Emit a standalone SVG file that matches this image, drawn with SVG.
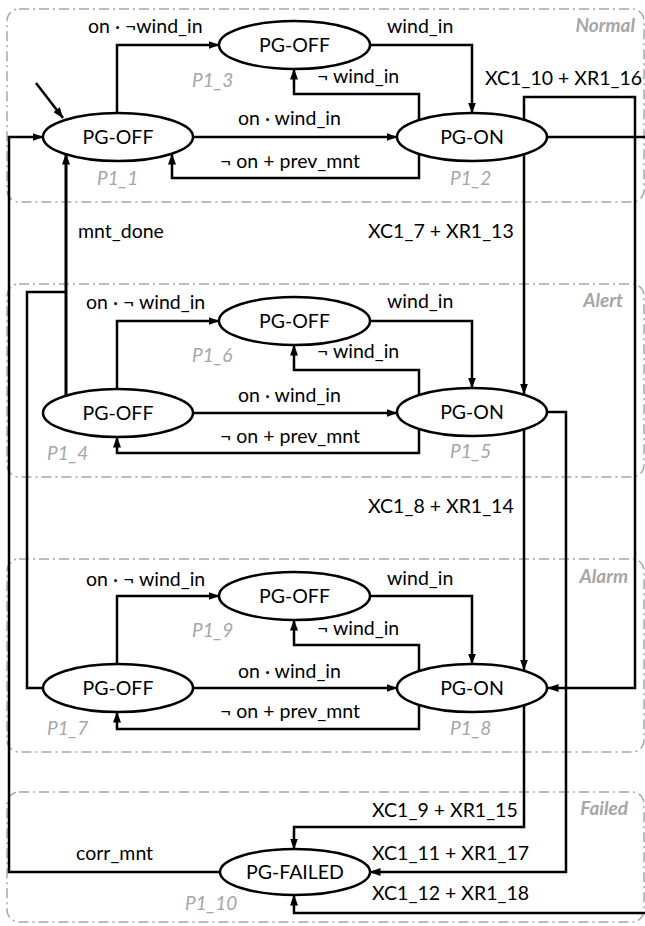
<svg xmlns="http://www.w3.org/2000/svg" width="645" height="926" viewBox="0 0 645 926">
<style>
.region{fill:none;stroke:#a6a6a6;stroke-width:1.5;stroke-dasharray:10 4 2 4}
.rlabel{font-family:Lato,"Open Sans",sans-serif;font-size:19px;font-weight:bold;font-style:italic;fill:#a6a6a6;text-anchor:end}
.st{fill:#fff;stroke:#000;stroke-width:2.5}
.nt{font-family:Lato,"Open Sans",sans-serif;font-size:19.5px;fill:#000;text-anchor:middle}
.pl{font-family:Lato,"Open Sans",sans-serif;font-size:19px;font-style:italic;fill:#a6a6a6}
.e{fill:none;stroke:#000;stroke-width:2.5;marker-end:url(#ah)}
.ln{fill:none;stroke:#000;stroke-width:2.5}
.lb{font-family:Lato,"Open Sans",sans-serif;font-size:19.5px;fill:#000}
</style>
<defs>
<marker id="ah" viewBox="0 0 11 8" refX="10.5" refY="4" markerWidth="11" markerHeight="8" markerUnits="userSpaceOnUse" orient="auto">
<path d="M0,0 L11,4 L0,8 z" fill="#000"/>
</marker>
</defs>
<g id="regions">
<rect class="region" x="7" y="9" width="637" height="193" rx="12"/>
<rect class="region" x="7" y="284" width="637" height="193" rx="12"/>
<rect class="region" x="7" y="559" width="637" height="193" rx="12"/>
<rect class="region" x="7" y="792" width="637" height="130" rx="12"/>
<text class="rlabel" x="635" y="32">Normal</text>
<text class="rlabel" x="623" y="307">Alert</text>
<text class="rlabel" x="628" y="583">Alarm</text>
<text class="rlabel" x="628" y="815">Failed</text>
</g>
<g id="connectors">
<path class="e" d="M36,83 L63,118"/>
<path class="e" d="M220,872 H9 V137 H43"/>
<path class="e" d="M117,113 V45 H219"/>
<path class="e" d="M370,45 H472 V113"/>
<path class="e" d="M419,120 V94 H294 V69"/>
<path class="e" d="M193,137 H397"/>
<path class="e" d="M419,154 V178 H172 V154"/>
<path class="e" d="M524,120 V97 H635 V688 H548"/>
<path class="ln" d="M547,137 H645"/>
<path class="e" d="M645,913 H294 V895"/>
<path class="e" d="M524,154 V394"/>
<path class="e" d="M66,396 V154" style="stroke-width:3"/>
<path class="ln" d="M43,688 H27 V292 H66"/>
<path class="e" d="M117,390 V321 H219"/>
<path class="e" d="M370,321 H472 V388"/>
<path class="e" d="M419,395 V370 H294 V345"/>
<path class="e" d="M193,413 H397"/>
<path class="e" d="M419,430 V453 H117 V437"/>
<path class="e" d="M547,412 H566 V872 H370"/>
<path class="e" d="M524,430 V670"/>
<path class="e" d="M117,665 V596 H219"/>
<path class="e" d="M370,596 H472 V664"/>
<path class="e" d="M419,671 V645 H294 V620"/>
<path class="e" d="M193,688 H397"/>
<path class="e" d="M419,705 V729 H117 V712"/>
<path class="e" d="M524,705 V827 H294 V849"/>
<text class="lb" x="88" y="33">on · ¬wind_in</text>
<text class="lb" x="387" y="33">wind_in</text>
<text class="lb" x="317" y="83">¬ wind_in</text>
<text class="lb" x="238" y="125">on · wind_in</text>
<text class="lb" x="220" y="168">¬ on + prev_mnt</text>
<text class="lb" x="485" y="85">XC1_10 + XR1_16</text>
<text class="lb" x="78" y="238">mnt_done</text>
<text class="lb" x="368" y="238">XC1_7 + XR1_13</text>
<text class="lb" x="86" y="309">on · ¬ wind_in</text>
<text class="lb" x="387" y="308">wind_in</text>
<text class="lb" x="317" y="358">¬ wind_in</text>
<text class="lb" x="238" y="402">on · wind_in</text>
<text class="lb" x="220" y="443">¬ on + prev_mnt</text>
<text class="lb" x="368" y="513">XC1_8 + XR1_14</text>
<text class="lb" x="86" y="586">on · ¬ wind_in</text>
<text class="lb" x="387" y="585">wind_in</text>
<text class="lb" x="317" y="635">¬ wind_in</text>
<text class="lb" x="238" y="678">on · wind_in</text>
<text class="lb" x="220" y="718">¬ on + prev_mnt</text>
<text class="lb" x="372" y="817">XC1_9 + XR1_15</text>
<text class="lb" x="76" y="860">corr_mnt</text>
<text class="lb" x="372" y="860">XC1_11 + XR1_17</text>
<text class="lb" x="372" y="900">XC1_12 + XR1_18</text>
</g>
<g id="P1_1"><ellipse class="st" cx="118" cy="137" rx="75" ry="24"/><text class="nt" x="118" y="144">PG-OFF</text><text class="pl" x="97" y="185">P1_1</text></g>
<g id="P1_2"><ellipse class="st" cx="472" cy="137" rx="75" ry="24"/><text class="nt" x="472" y="144">PG-ON</text><text class="pl" x="450" y="185">P1_2</text></g>
<g id="P1_3"><ellipse class="st" cx="294.5" cy="45" rx="75.5" ry="24"/><text class="nt" x="294.5" y="52">PG-OFF</text><text class="pl" x="192" y="87">P1_3</text></g>
<g id="P1_4"><ellipse class="st" cx="118" cy="413" rx="75" ry="24"/><text class="nt" x="118" y="420">PG-OFF</text><text class="pl" x="47" y="460">P1_4</text></g>
<g id="P1_5"><ellipse class="st" cx="472" cy="412" rx="75" ry="24"/><text class="nt" x="472" y="419">PG-ON</text><text class="pl" x="450" y="458">P1_5</text></g>
<g id="P1_6"><ellipse class="st" cx="294.5" cy="321" rx="75.5" ry="24"/><text class="nt" x="294.5" y="328">PG-OFF</text><text class="pl" x="192" y="362">P1_6</text></g>
<g id="P1_7"><ellipse class="st" cx="118" cy="688" rx="75" ry="24"/><text class="nt" x="118" y="695">PG-OFF</text><text class="pl" x="47" y="735">P1_7</text></g>
<g id="P1_8"><ellipse class="st" cx="472" cy="688" rx="75" ry="24"/><text class="nt" x="472" y="695">PG-ON</text><text class="pl" x="450" y="735">P1_8</text></g>
<g id="P1_9"><ellipse class="st" cx="294.5" cy="596" rx="75.5" ry="24"/><text class="nt" x="294.5" y="603">PG-OFF</text><text class="pl" x="192" y="637">P1_9</text></g>
<g id="P1_10"><ellipse class="st" cx="295" cy="872" rx="75" ry="23"/><text class="nt" x="295" y="879">PG-FAILED</text><text class="pl" x="185" y="910">P1_10</text></g>
</svg>
